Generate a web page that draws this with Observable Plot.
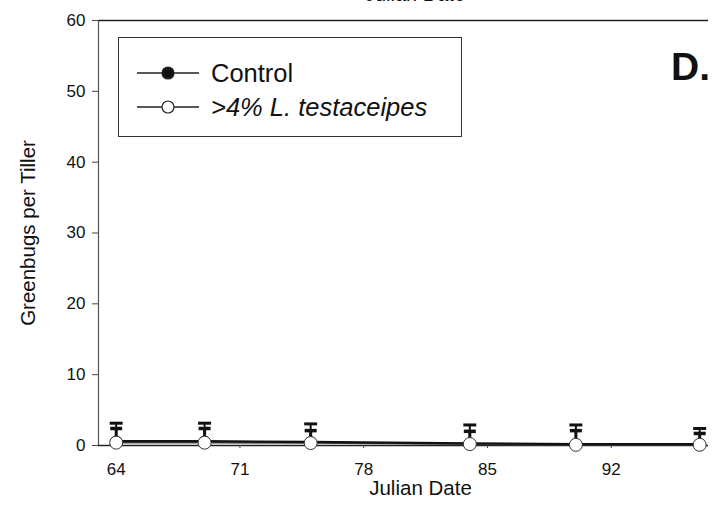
<!DOCTYPE html>
<html>
<head>
<meta charset="utf-8">
<script src="https://cdn.jsdelivr.net/npm/d3@7"></script>
<script src="https://cdn.jsdelivr.net/npm/@observablehq/plot@0.6"></script>
<style>
  html, body { margin: 0; padding: 0; background: #fff; }
  body { width: 712px; height: 505px; position: relative; overflow: hidden;
         font-family: "Liberation Sans", Arial, sans-serif; }
  #chart { position: absolute; left: 0; top: 0; }
  #topcut { position: absolute; top: -17px; left: 0; width: 830px; text-align: center;
            font-size: 20px; color: #111; }
  #legend { position: absolute; left: 118px; top: 37px; width: 344px; height: 100px;
            border: 1.3px solid #333; background: #fff; box-sizing: border-box; }
  #legend .row { position: absolute; left: 0; height: 30px; display: flex; align-items: center; }
  #legend .row span { font-size: 25.5px; color: #111; margin-left: 12px; }
  #panel { position: absolute; left: 671px; top: 45px; font-size: 39px; font-weight: bold; color: #111; }
</style>
</head>
<body>
<div id="chart"></div>
<div id="topcut">Julian Date</div>
<div id="legend"></div>
<div id="panel">D.</div>
<script>
// ---- data ----
const days = [64, 69, 75, 84, 90, 97];
const controlMean = [0.6, 0.6, 0.5, 0.3, 0.2, 0.2];
const controlUpper = [3.15, 3.15, 3.05, 2.9, 2.9, 2.4];
const treatMean = [0.4, 0.4, 0.35, 0.2, 0.1, 0.1];
const treatUpper = [2.4, 2.4, 2.1, 2.0, 2.1, 1.7];
const xTicks = [64, 71, 78, 85, 92];
const yTicks = [0, 10, 20, 30, 40, 50, 60];
const seriesNames = ["Control", ">4% L. testaceipes"];

const control = days.map((d, i) => ({day: d, mean: controlMean[i], upper: controlUpper[i]}));
const treat = days.map((d, i) => ({day: d, mean: treatMean[i], upper: treatUpper[i]}));

const capSymbol = {
  draw(context, size) {
    const w = Math.sqrt(size / Math.PI);
    context.moveTo(-w, 0);
    context.lineTo(w, 0);
  }
};

const font = '"Liberation Sans", Arial, sans-serif';

const plot = Plot.plot({
  width: 712,
  height: 505,
  marginLeft: 98,
  marginRight: 4,
  marginTop: 20,
  marginBottom: 60,
  style: {fontFamily: font, fontSize: "17px", color: "#111", background: "#fff", overflow: "visible"},
  x: {domain: [63, 97.5]},
  y: {domain: [0, 60]},
  marks: [
    Plot.ruleY([60], {stroke: "#222", strokeWidth: 1.6}),
    Plot.ruleX([63], {stroke: "#555", strokeWidth: 1.2}),
    Plot.ruleY([0], {stroke: "#222", strokeWidth: 1.7}),
    Plot.axisY({ticks: yTicks, tickSize: 6, tickPadding: 7, label: null, fontSize: 17, stroke: "#444"}),
    Plot.axisX({ticks: xTicks, tickSize: 3, tickPadding: 14, label: null, fontSize: 17, stroke: "#444"}),
    Plot.text(["Julian Date"], {frameAnchor: "bottom", dy: 49, dx: 17, fontSize: 20.5, fill: "#111"}),
    Plot.text(["Greenbugs per Tiller"], {frameAnchor: "left", textAnchor: "middle", rotate: -90, dx: -70, dy: 0, fontSize: 20.5, fill: "#111"}),
    // lines
    Plot.line(treat, {x: "day", y: "mean", stroke: "#555", strokeWidth: 1.6}),
    Plot.line(control, {x: "day", y: "mean", stroke: "#111", strokeWidth: 2.4}),
    // error bars
    Plot.ruleX(control, {x: "day", y1: "mean", y2: "upper", stroke: "#111", strokeWidth: 2}),
    Plot.ruleX(treat, {x: "day", y1: "mean", y2: "upper", stroke: "#111", strokeWidth: 3}),
    Plot.dot(control, {x: "day", y: "upper", symbol: capSymbol, r: 6.5, stroke: "#111", strokeWidth: 3}),
    Plot.dot(treat, {x: "day", y: "upper", symbol: capSymbol, r: 6, stroke: "#111", strokeWidth: 3.5}),
    // markers
    Plot.dot(control, {x: "day", y: "mean", r: 5, fill: "#111", stroke: "#111"}),
    Plot.dot(treat, {x: "day", y: "mean", r: 6.5, fill: "#fff", stroke: "#333", strokeWidth: 1})
  ]
});
document.getElementById("chart").appendChild(plot);

// ---- legend ----
const legend = document.getElementById("legend");
const legendFills = ["#111", "#fff"];
seriesNames.forEach((name, i) => {
  const row = document.createElement("div");
  row.className = "row";
  row.style.top = (i === 0 ? 20 : 54) + "px";
  row.style.left = "18px";
  const svg = `<svg width="62" height="30"><line x1="0" x2="62" y1="15" y2="15" stroke="#222" stroke-width="1.6"/>` +
    `<circle cx="31" cy="15" r="6" fill="${legendFills[i]}" stroke="#222" stroke-width="1.2"/></svg>`;
  const label = i === 0 ? name : `<i>${name.replace(">", "&gt;")}</i>`;
  row.innerHTML = svg + `<span>${label}</span>`;
  legend.appendChild(row);
});
</script>
</body>
</html>
